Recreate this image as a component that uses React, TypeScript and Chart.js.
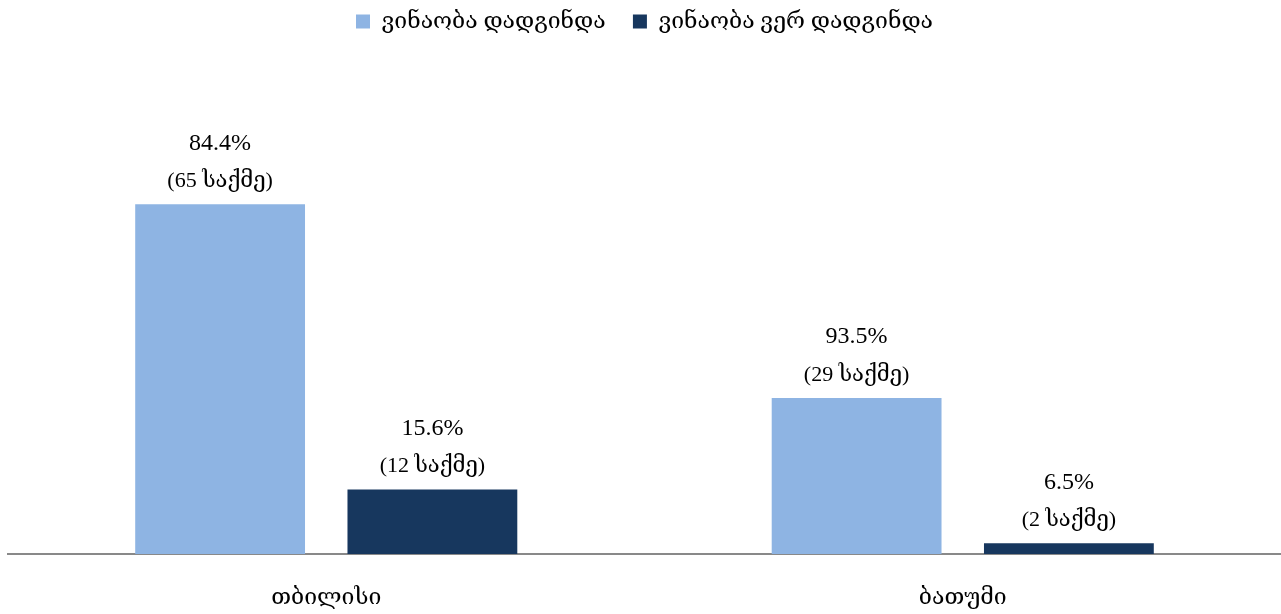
import React, { useEffect, useRef } from "react";
import { Chart, registerables } from "chart.js";

Chart.register(...registerables);

const categories = ["თბილისი", "ბათუმი"];
const seriesNames = ["ვინაობა დადგინდა", "ვინაობა ვერ დადგინდა"];
const identifiedCases = [65, 29];
const unidentifiedCases = [12, 2];
const identifiedPct = ["84.4%", "93.5%"];
const unidentifiedPct = ["15.6%", "6.5%"];
const colors = ["#8EB4E3", "#17375E"];

const FONT = "'Liberation Serif', 'DejaVu Serif', serif";

const labelPlugin = {
  id: "barLabels",
  afterDatasetsDraw(chart: any) {
    const ctx = chart.ctx;
    const pcts = [identifiedPct, unidentifiedPct];
    ctx.save();
    ctx.fillStyle = "#000";
    ctx.textAlign = "center";
    ctx.textBaseline = "middle";
    chart.data.datasets.forEach((ds: any, di: number) => {
      const meta = chart.getDatasetMeta(di);
      meta.data.forEach((bar: any, i: number) => {
        const x = bar.x;
        const y = bar.y;
        ctx.font = `22px ${FONT}`;
        ctx.fillText(`(${ds.data[i]} საქმე)`, x, y - 23);
        ctx.font = `24px ${FONT}`;
        ctx.fillText(pcts[di][i], x, y - 61);
      });
    });
    ctx.restore();
  },
};

export default function App() {
  const ref = useRef<HTMLCanvasElement>(null);
  useEffect(() => {
    if (!ref.current) return;
    const chart = new Chart(ref.current, {
      type: "bar",
      data: {
        labels: categories,
        datasets: [
          {
            label: seriesNames[0],
            data: identifiedCases,
            backgroundColor: colors[0],
            categoryPercentage: 0.667,
            barPercentage: 0.8,
          },
          {
            label: seriesNames[1],
            data: unidentifiedCases,
            backgroundColor: colors[1],
            categoryPercentage: 0.667,
            barPercentage: 0.8,
          },
        ],
      },
      options: {
        animation: false,
        responsive: false,
        maintainAspectRatio: false,
        layout: { padding: { left: 8, right: 0, top: 0, bottom: 0 } },
        plugins: {
          legend: {
            position: "top",
            labels: {
              font: { family: FONT, size: 23 },
              color: "#000",
              boxWidth: 14,
              boxHeight: 14,
              padding: 10,
              generateLabels(chart: any) {
                const items = Chart.defaults.plugins.legend.labels.generateLabels(chart);
                items.forEach((it: any, i: number) => {
                  if (i === 0) it.text = it.text + "   ";
                });
                return items;
              },
            },
          },
          tooltip: { enabled: false },
        },
        scales: {
          x: {
            grid: { display: false, drawTicks: false },
            border: { display: true, color: "#898989", width: 2 },
            ticks: {
              font: { family: FONT, size: 23 },
              color: "#000",
              padding: 30,
            },
            afterFit(scale: any) {
              scale.height = 60;
            },
          },
          y: {
            display: false,
            min: 0,
            max: 95,
          },
        },
      },
      plugins: [labelPlugin],
    });
    return () => chart.destroy();
  }, []);
  return (
    <div style={{ position: "fixed", left: 0, top: 0, width: 1281, height: 614, background: "#fff" }}>
      <canvas ref={ref} width={1281} height={614} style={{ width: 1281, height: 614 }} />
    </div>
  );
}
